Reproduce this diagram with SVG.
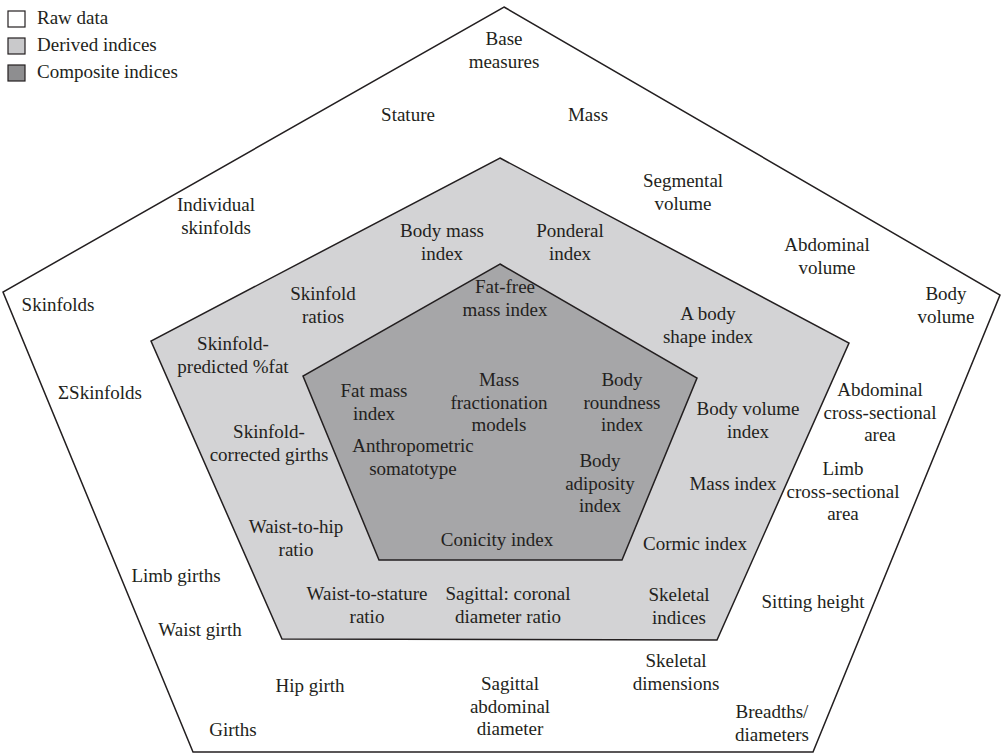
<svg xmlns="http://www.w3.org/2000/svg" width="1001" height="756" viewBox="0 0 1001 756">
<style>
text{font-family:"Liberation Serif","Times New Roman",serif;font-size:19px;fill:#231f20;text-anchor:middle}
text.l{text-anchor:start}
.pent{stroke:#231f20;stroke-width:1.5;stroke-linejoin:miter}
.raw{fill:#ffffff}
.der{fill:#d3d3d5}
.com{fill:#a6a6a8}
.key{stroke:#231f20;stroke-width:1.2}
</style>
<rect x="0" y="0" width="1001" height="756" fill="#ffffff"/>
<g id="legend">
<rect class="key raw" x="8" y="11" width="17" height="16"/>
<text class="l" x="37" y="24">Raw data</text>
<rect class="key" x="8" y="38" width="17" height="16" fill="#c9c9cb"/>
<text class="l" x="37" y="51">Derived indices</text>
<rect class="key" x="8" y="65" width="17" height="16" fill="#8e8e90"/>
<text class="l" x="37" y="78">Composite indices</text>
</g>
<g id="pentagons">
<polygon id="outer" class="pent raw" points="504,7 1000,295 813,752 193,752 3,292"/>
<polygon id="middle" class="pent der" points="500,158 849,343 717,640 282,639 151,341"/>
<polygon id="inner" class="pent com" points="500,264 697,378 622,560 379,560 303,376"/>
</g>
<g id="raw-labels">
<g id="base-measures"><text x="504" y="45">Base<tspan x="504" dy="23">measures</tspan></text></g>
<g id="stature"><text x="408" y="121">Stature</text></g>
<g id="mass"><text x="588" y="121">Mass</text></g>
<g id="individual-skinfolds"><text x="216" y="211">Individual<tspan x="216" dy="22.5">skinfolds</tspan></text></g>
<g id="segmental-volume"><text x="683" y="187">Segmental<tspan x="683" dy="22.5">volume</tspan></text></g>
<g id="abdominal-volume"><text x="827" y="251">Abdominal<tspan x="827" dy="22.5">volume</tspan></text></g>
<g id="body-volume"><text x="946" y="300">Body<tspan x="946" dy="22.5">volume</tspan></text></g>
<g id="skinfolds"><text x="58" y="311">Skinfolds</text></g>
<g id="sum-skinfolds"><text x="100" y="399">ΣSkinfolds</text></g>
<g id="limb-girths"><text x="176" y="582">Limb girths</text></g>
<g id="waist-girth"><text x="200" y="636">Waist girth</text></g>
<g id="girths"><text x="233" y="736">Girths</text></g>
<g id="hip-girth"><text x="310" y="692">Hip girth</text></g>
<g id="sagittal-abdominal-diameter"><text x="510" y="690">Sagittal<tspan x="510" dy="22.5">abdominal</tspan><tspan x="510" dy="22.5">diameter</tspan></text></g>
<g id="skeletal-dimensions"><text x="676" y="667">Skeletal<tspan x="676" dy="22.5">dimensions</tspan></text></g>
<g id="breadths-diameters"><text x="772" y="718">Breadths/<tspan x="772" dy="22.5">diameters</tspan></text></g>
<g id="sitting-height"><text x="813" y="608">Sitting height</text></g>
<g id="limb-csa"><text x="843" y="475">Limb<tspan x="843" dy="22.5">cross-sectional</tspan><tspan x="843" dy="22.5">area</tspan></text></g>
<g id="abdominal-csa"><text x="880" y="396">Abdominal<tspan x="880" dy="22.5">cross-sectional</tspan><tspan x="880" dy="22.5">area</tspan></text></g>
</g>
<g id="derived-labels">
<g id="body-mass-index"><text x="442" y="237">Body mass<tspan x="442" dy="22.5">index</tspan></text></g>
<g id="ponderal-index"><text x="570" y="237">Ponderal<tspan x="570" dy="22.5">index</tspan></text></g>
<g id="skinfold-ratios"><text x="323" y="300">Skinfold<tspan x="323" dy="22.5">ratios</tspan></text></g>
<g id="skinfold-predicted-fat"><text x="233" y="350">Skinfold-<tspan x="233" dy="22.5">predicted %fat</tspan></text></g>
<g id="skinfold-corrected-girths"><text x="269" y="438">Skinfold-<tspan x="269" dy="22.5">corrected girths</tspan></text></g>
<g id="waist-to-hip-ratio"><text x="296" y="533">Waist-to-hip<tspan x="296" dy="22.5">ratio</tspan></text></g>
<g id="waist-to-stature-ratio"><text x="367" y="600">Waist-to-stature<tspan x="367" dy="22.5">ratio</tspan></text></g>
<g id="sagittal-coronal-ratio"><text x="508" y="600">Sagittal: coronal<tspan x="508" dy="22.5">diameter ratio</tspan></text></g>
<g id="skeletal-indices"><text x="679" y="601">Skeletal<tspan x="679" dy="22.5">indices</tspan></text></g>
<g id="cormic-index"><text x="695" y="550">Cormic index</text></g>
<g id="mass-index"><text x="733" y="490">Mass index</text></g>
<g id="body-volume-index"><text x="748" y="415">Body volume<tspan x="748" dy="22.5">index</tspan></text></g>
<g id="a-body-shape-index"><text x="708" y="320">A body<tspan x="708" dy="22.5">shape index</tspan></text></g>
</g>
<g id="composite-labels">
<g id="fat-free-mass-index"><text x="505" y="293">Fat-free<tspan x="505" dy="22.5">mass index</tspan></text></g>
<g id="fat-mass-index"><text x="374" y="397">Fat mass<tspan x="374" dy="22.5">index</tspan></text></g>
<g id="mass-fractionation-models"><text x="499" y="386">Mass<tspan x="499" dy="22.5">fractionation</tspan><tspan x="499" dy="22.5">models</tspan></text></g>
<g id="body-roundness-index"><text x="622" y="386">Body<tspan x="622" dy="22.5">roundness</tspan><tspan x="622" dy="22.5">index</tspan></text></g>
<g id="body-adiposity-index"><text x="600" y="467">Body<tspan x="600" dy="22.5">adiposity</tspan><tspan x="600" dy="22.5">index</tspan></text></g>
<g id="anthropometric-somatotype"><text x="413" y="452">Anthropometric<tspan x="413" dy="22.5">somatotype</tspan></text></g>
<g id="conicity-index"><text x="497" y="546">Conicity index</text></g>
</g>
</svg>
